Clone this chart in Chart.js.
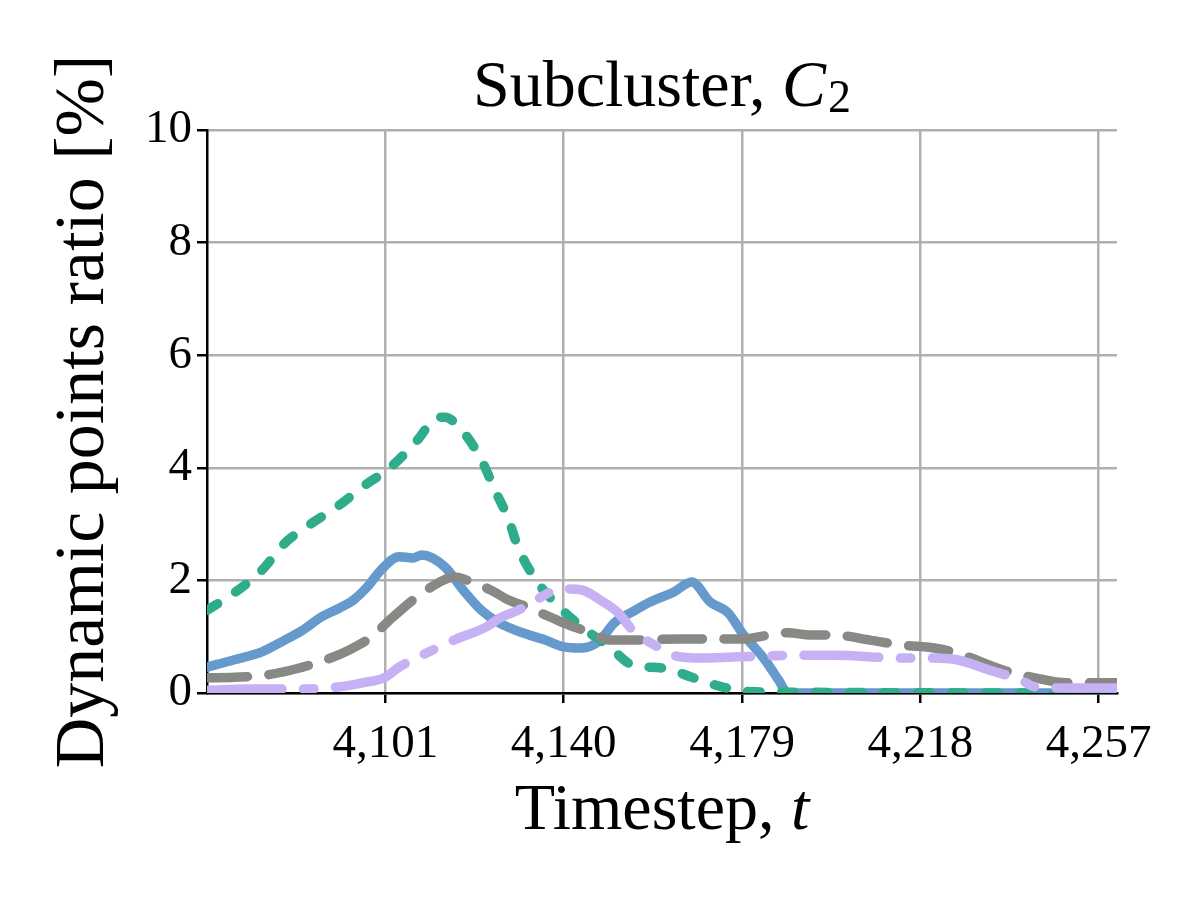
<!DOCTYPE html>
<html>
<head>
<meta charset="utf-8">
<script src="https://cdn.jsdelivr.net/npm/chart.js@4.4.1/dist/chart.umd.min.js"></script>
<style>
  html, body { margin: 0; padding: 0; background: #fff; }
  #wrap { width: 1200px; height: 900px; }
</style>
</head>
<body>
<div id="wrap"><canvas id="chart" width="1200" height="900"></canvas></div>
<script>
// tick positions on the time axis
const xTicks = [4101, 4140, 4179, 4218, 4257];
const yTicks = [0, 2, 4, 6, 8, 10];

// blue solid
const blueT = [4062, 4068, 4074, 4079, 4083, 4087, 4091, 4094, 4097, 4100, 4104, 4107, 4109, 4114, 4118, 4122, 4126, 4131, 4136, 4140, 4144, 4148, 4151, 4155, 4159, 4164, 4168, 4172, 4176, 4179, 4184, 4187, 4189, 4261];
const blueV = [0.46, 0.59, 0.73, 0.94, 1.12, 1.35, 1.51, 1.65, 1.88, 2.18, 2.42, 2.40, 2.45, 2.24, 1.83, 1.47, 1.24, 1.07, 0.94, 0.82, 0.80, 0.94, 1.24, 1.44, 1.62, 1.79, 1.97, 1.62, 1.42, 1.07, 0.59, 0.23, 0.0, 0.0];

// green dotted
const greenT = [4062, 4068, 4074, 4079, 4085, 4091, 4096, 4102, 4108, 4112, 4114, 4118, 4122, 4125, 4128, 4130, 4134, 4139, 4144, 4150, 4155, 4162, 4168, 4175, 4182, 4261];
const greenV = [1.47, 1.78, 2.18, 2.66, 3.02, 3.34, 3.66, 4.0, 4.49, 4.88, 4.9, 4.64, 4.14, 3.6, 3.07, 2.59, 2.0, 1.53, 1.17, 0.82, 0.5, 0.44, 0.28, 0.1, 0.02, 0.0];

// gray dashed
const grayT = [4062, 4068, 4075, 4082, 4088, 4093, 4098, 4102, 4107, 4111, 4116, 4120, 4124, 4128, 4131, 4137, 4141, 4146, 4150, 4155, 4165, 4174, 4179, 4185, 4189, 4194, 4199, 4207, 4214, 4221, 4226, 4236, 4243, 4250, 4255, 4261];
const grayV = [0.27, 0.28, 0.32, 0.44, 0.59, 0.76, 1.0, 1.3, 1.65, 1.88, 2.06, 1.97, 1.83, 1.65, 1.56, 1.35, 1.21, 1.07, 0.94, 0.94, 0.96, 0.96, 0.96, 1.03, 1.07, 1.03, 1.03, 0.94, 0.85, 0.8, 0.71, 0.41, 0.27, 0.18, 0.18, 0.18];

// purple dash-dot
const purpleT = [4062, 4071, 4082, 4090, 4096, 4101, 4104, 4110, 4116, 4123, 4126, 4130, 4133, 4137, 4140, 4144, 4148, 4152, 4155, 4158, 4161, 4164, 4170, 4177, 4185, 4192, 4199, 4214, 4221, 4226, 4233, 4240, 4243, 4249, 4255, 4261];
const purpleV = [0.05, 0.07, 0.07, 0.1, 0.18, 0.28, 0.46, 0.71, 0.94, 1.17, 1.33, 1.47, 1.6, 1.79, 1.85, 1.83, 1.65, 1.42, 1.12, 0.94, 0.8, 0.67, 0.62, 0.64, 0.66, 0.67, 0.67, 0.62, 0.62, 0.59, 0.41, 0.23, 0.11, 0.09, 0.09, 0.09];

const SERIF = '"Liberation Serif", "Times New Roman", serif';

function pts(ts, vs) {
  return ts.map((t, i) => ({ x: t, y: vs[i] }));
}

function lineSet(ts, vs, color, dash, order) {
  return {
    data: pts(ts, vs),
    borderColor: color,
    borderWidth: 9.5,
    borderDash: dash,
    borderCapStyle: 'round',
    borderJoinStyle: 'round',
    pointRadius: 0,
    cubicInterpolationMode: 'monotone',
    fill: false,
    order: order,
  };
}

// title and x label have italic parts, so draw them by hand
const textPlugin = {
  id: 'mixedText',
  afterDraw(chart) {
    const ctx = chart.ctx;
    const area = chart.chartArea;
    const cx = (area.left + area.right) / 2;
    ctx.save();
    ctx.fillStyle = '#000';
    ctx.textBaseline = 'alphabetic';
    ctx.textAlign = 'left';

    // main title
    const a = 'Subcluster, ';
    ctx.font = '66px ' + SERIF;
    const wa = ctx.measureText(a).width;
    ctx.font = 'italic 66px ' + SERIF;
    const wc = ctx.measureText('C').width;
    ctx.font = '46px ' + SERIF;
    const w2 = ctx.measureText('2').width;
    let x = cx - (wa + wc + w2 + 2) / 2;
    ctx.font = '66px ' + SERIF;
    ctx.fillText(a, x, 106);
    x += wa;
    ctx.font = 'italic 66px ' + SERIF;
    ctx.fillText('C', x, 106);
    x += wc + 2;
    ctx.font = '46px ' + SERIF;
    ctx.fillText('2', x, 112);

    // x axis label
    const b = 'Timestep, ';
    ctx.font = '66px ' + SERIF;
    const wb = ctx.measureText(b).width;
    ctx.font = 'italic 66px ' + SERIF;
    const wt = ctx.measureText('t').width;
    x = cx - (wb + wt) / 2;
    ctx.font = '66px ' + SERIF;
    ctx.fillText(b, x, 829);
    ctx.font = 'italic 66px ' + SERIF;
    ctx.fillText('t', x + wb, 829);
    ctx.restore();
  }
};

const ctx = document.getElementById('chart');
new Chart(ctx, {
  type: 'line',
  data: {
    datasets: [
      lineSet(purpleT, purpleV, '#c6b1f4', [75, 21.5, 10.5, 21.5], 1),
      lineSet(grayT, grayV, '#888985', [40.5, 21.5], 2),
      lineSet(greenT, greenV, '#2eac8c', [12.5, 21.5], 3),
      lineSet(blueT, blueV, '#6699cc', [], 4),
    ],
  },
  options: {
    responsive: false,
    animation: false,
    devicePixelRatio: 1,
    layout: { padding: { left: 50, right: 83, top: 130, bottom: 0 } },
    plugins: {
      legend: { display: false },
      title: { display: false },
      tooltip: { enabled: false },
    },
    scales: {
      x: {
        type: 'linear',
        min: 4062,
        max: 4261,
        afterBuildTicks: (scale) => {
          scale.ticks = xTicks.map(v => ({ value: v }));
        },
        afterFit: (scale) => { scale.height = 207; },
        ticks: {
          color: '#000',
          font: { family: SERIF, size: 47 },
          padding: 13,
          maxRotation: 0,
          autoSkip: false,
          callback: (v) => v.toLocaleString('en-US'),
        },
        grid: {
          color: '#b0b0b0',
          lineWidth: 2.5,
          tickColor: '#000',
          tickWidth: 2.5,
          tickLength: 10,
        },
        border: { display: true, color: '#000', width: 2.5 },
      },
      y: {
        min: 0,
        max: 10,
        afterBuildTicks: (scale) => {
          scale.ticks = yTicks.map(v => ({ value: v }));
        },
        afterFit: (scale) => { scale.width = 157; },
        ticks: {
          color: '#000',
          font: { family: SERIF, size: 47 },
          padding: 5,
        },
        grid: {
          color: '#b0b0b0',
          lineWidth: 2.5,
          tickColor: '#000',
          tickWidth: 2.5,
          tickLength: 10,
        },
        border: { display: true, color: '#000', width: 2.5 },
        title: {
          display: true,
          text: 'Dynamic points ratio [%]',
          color: '#000',
          font: { family: SERIF, size: 70, lineHeight: 1 },
          padding: 0,
        },
      },
    },
  },
  plugins: [textPlugin],
});
</script>
</body>
</html>
